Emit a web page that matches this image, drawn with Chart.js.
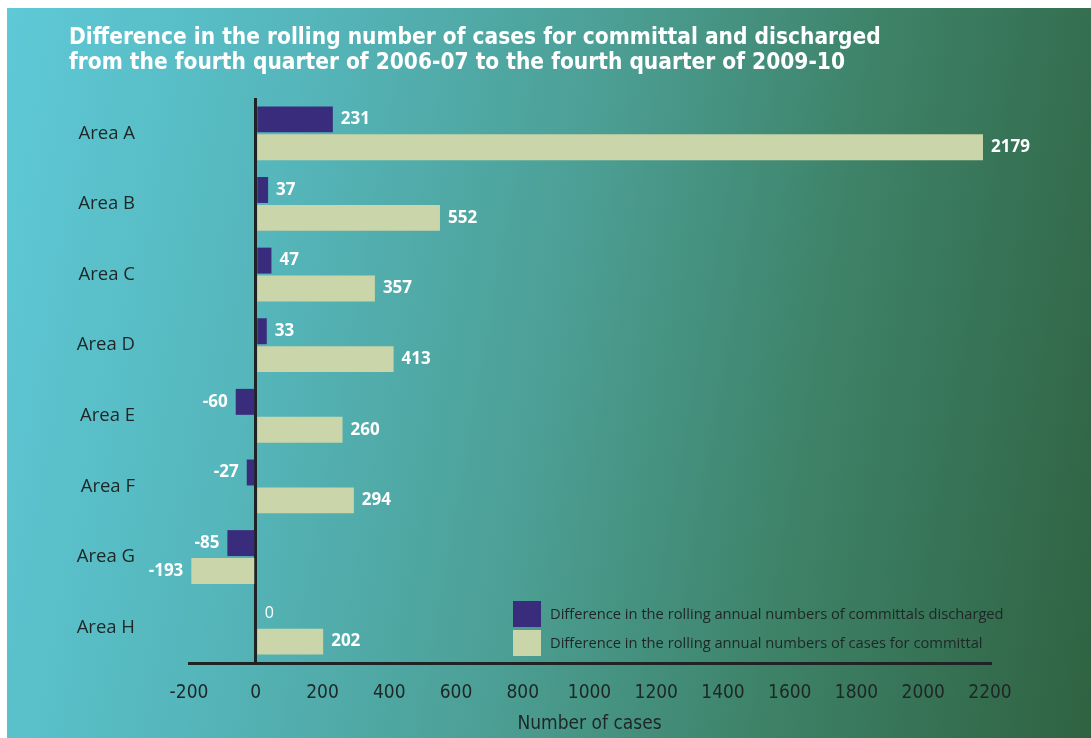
<!DOCTYPE html>
<html>
<head>
<meta charset="utf-8">
<script src="https://cdn.jsdelivr.net/npm/chart.js@4.4.1/dist/chart.umd.min.js"></script>
<style>
  html, body { margin: 0; padding: 0; background: #ffffff; }
  #wrap { position: absolute; left: 0; top: 0; width: 1091px; height: 738px; }
  #bg { position: absolute; left: 7px; top: 8px; right: 0; bottom: 0;
        background: linear-gradient(100deg, #5ec9d7 0%, #55b6bb 25%, #4c9f95 50%, #3e8369 72%, #2f6241 100%); }
  canvas { position: absolute; left: 0; top: 0; }
</style>
</head>
<body>
<div id="wrap"><div id="bg"></div><canvas id="c" width="1091" height="738"></canvas></div>
<script>
const categories = ["Area A", "Area B", "Area C", "Area D", "Area E", "Area F", "Area G", "Area H"];
const dischargedValues = [231, 37, 47, 33, -60, -27, -85, 0];
const committalValues = [2179, 552, 357, 413, 260, 294, -193, 202];
const seriesLabels = [
  "Difference in the rolling annual numbers of committals discharged",
  "Difference in the rolling annual numbers of cases for committal"
];
const xTickMin = -200, xTickMax = 2200, xTickStep = 200;
const titleLines = [
  "Difference in the rolling number of cases for committal and discharged",
  "from the fourth quarter of 2006-07 to the fourth quarter of 2009-10"
];
const axisTitle = "Number of cases";

const DARK = "#3a2c7c", LIGHT = "#cad5a9", TXT = "#1e2626";

const titlePlugin = {
  id: "titleDraw",
  afterDraw(chart) {
    const ctx = chart.ctx;
    ctx.save();
    ctx.fillStyle = "#ffffff";
    ctx.font = "bold 22.5px 'DejaVu Sans Condensed', 'DejaVu Sans'";
    ctx.textBaseline = "alphabetic";
    ctx.textAlign = "left";
    ctx.fillText(titleLines[0], 69, 44);
    ctx.fillText(titleLines[1], 69, 69);
    ctx.restore();
  }
};

const labelPlugin = {
  id: "valueLabels",
  afterDatasetsDraw(chart) {
    const ctx = chart.ctx;
    ctx.save();
    ctx.fillStyle = "#ffffff";
    ctx.textBaseline = "middle";
    chart.data.datasets.forEach((ds, di) => {
      const meta = chart.getDatasetMeta(di);
      meta.data.forEach((bar, i) => {
        const v = ds.data[i];
        if (v === 0) {
          ctx.font = "16px 'Open Sans'";
          ctx.textAlign = "left";
          ctx.fillText(String(v), bar.x + 9, bar.y);
        } else if (v > 0) {
          ctx.font = "bold 17px 'Open Sans'";
          ctx.textAlign = "left";
          ctx.fillText(String(v), bar.x + 8, bar.y);
        } else {
          ctx.font = "bold 17px 'Open Sans'";
          ctx.textAlign = "right";
          ctx.fillText(String(v), bar.x - 8, bar.y);
        }
      });
    });
    ctx.restore();
  }
};

const legendPlugin = {
  id: "legendDraw",
  afterDraw(chart) {
    const ctx = chart.ctx;
    ctx.save();
    const x0 = 513, ys = [601, 630];
    chart.data.datasets.forEach((ds, di) => {
      ctx.fillStyle = ds.backgroundColor;
      ctx.fillRect(x0, ys[di], 28, 26);
      ctx.fillStyle = TXT;
      ctx.font = "14.7px 'Open Sans'";
      ctx.textAlign = "left";
      ctx.textBaseline = "middle";
      ctx.fillText(ds.label, x0 + 37, ys[di] + 14);
    });
    ctx.restore();
  }
};

new Chart(document.getElementById("c"), {
  type: "bar",
  data: {
    labels: categories,
    datasets: [
      { label: seriesLabels[0], data: dischargedValues, backgroundColor: DARK,
        categoryPercentage: 0.79, barPercentage: 0.93 },
      { label: seriesLabels[1], data: committalValues, backgroundColor: LIGHT,
        categoryPercentage: 0.79, barPercentage: 0.93 }
    ]
  },
  options: {
    indexAxis: "y",
    responsive: false,
    animation: false,
    layout: { padding: { top: 98, right: 101, bottom: 0, left: 0 } },
    plugins: { legend: { display: false }, tooltip: { enabled: false }, title: { display: false } },
    scales: {
      x: {
        type: "linear",
        min: xTickMin, max: xTickMax,
        ticks: { stepSize: xTickStep, color: TXT, padding: 19,
                 callback: (v) => String(v),
                 font: { family: "'DejaVu Sans Condensed', 'DejaVu Sans'", size: 19 } },
        grid: {
          drawTicks: false,
          lineWidth: 3,
          color: (c) => (c.tick && c.tick.value === 0) ? "#1e2424" : "rgba(0,0,0,0)"
        },
        border: { display: true, color: "#1e2424", width: 3 },
        title: { display: true, text: axisTitle, color: TXT, padding: { top: 4, bottom: 3 },
                 font: { family: "'DejaVu Sans Condensed', 'DejaVu Sans'", size: 19 } },
        afterFit(scale) { scale.height = 75; }
      },
      y: {
        ticks: { color: TXT, padding: 54, font: { family: "'Open Sans'", size: 18.5 } },
        grid: { display: false, drawTicks: false },
        border: { display: false },
        afterFit(scale) { scale.width = 189; }
      }
    }
  },
  plugins: [titlePlugin, labelPlugin, legendPlugin]
});
</script>
</body>
</html>
